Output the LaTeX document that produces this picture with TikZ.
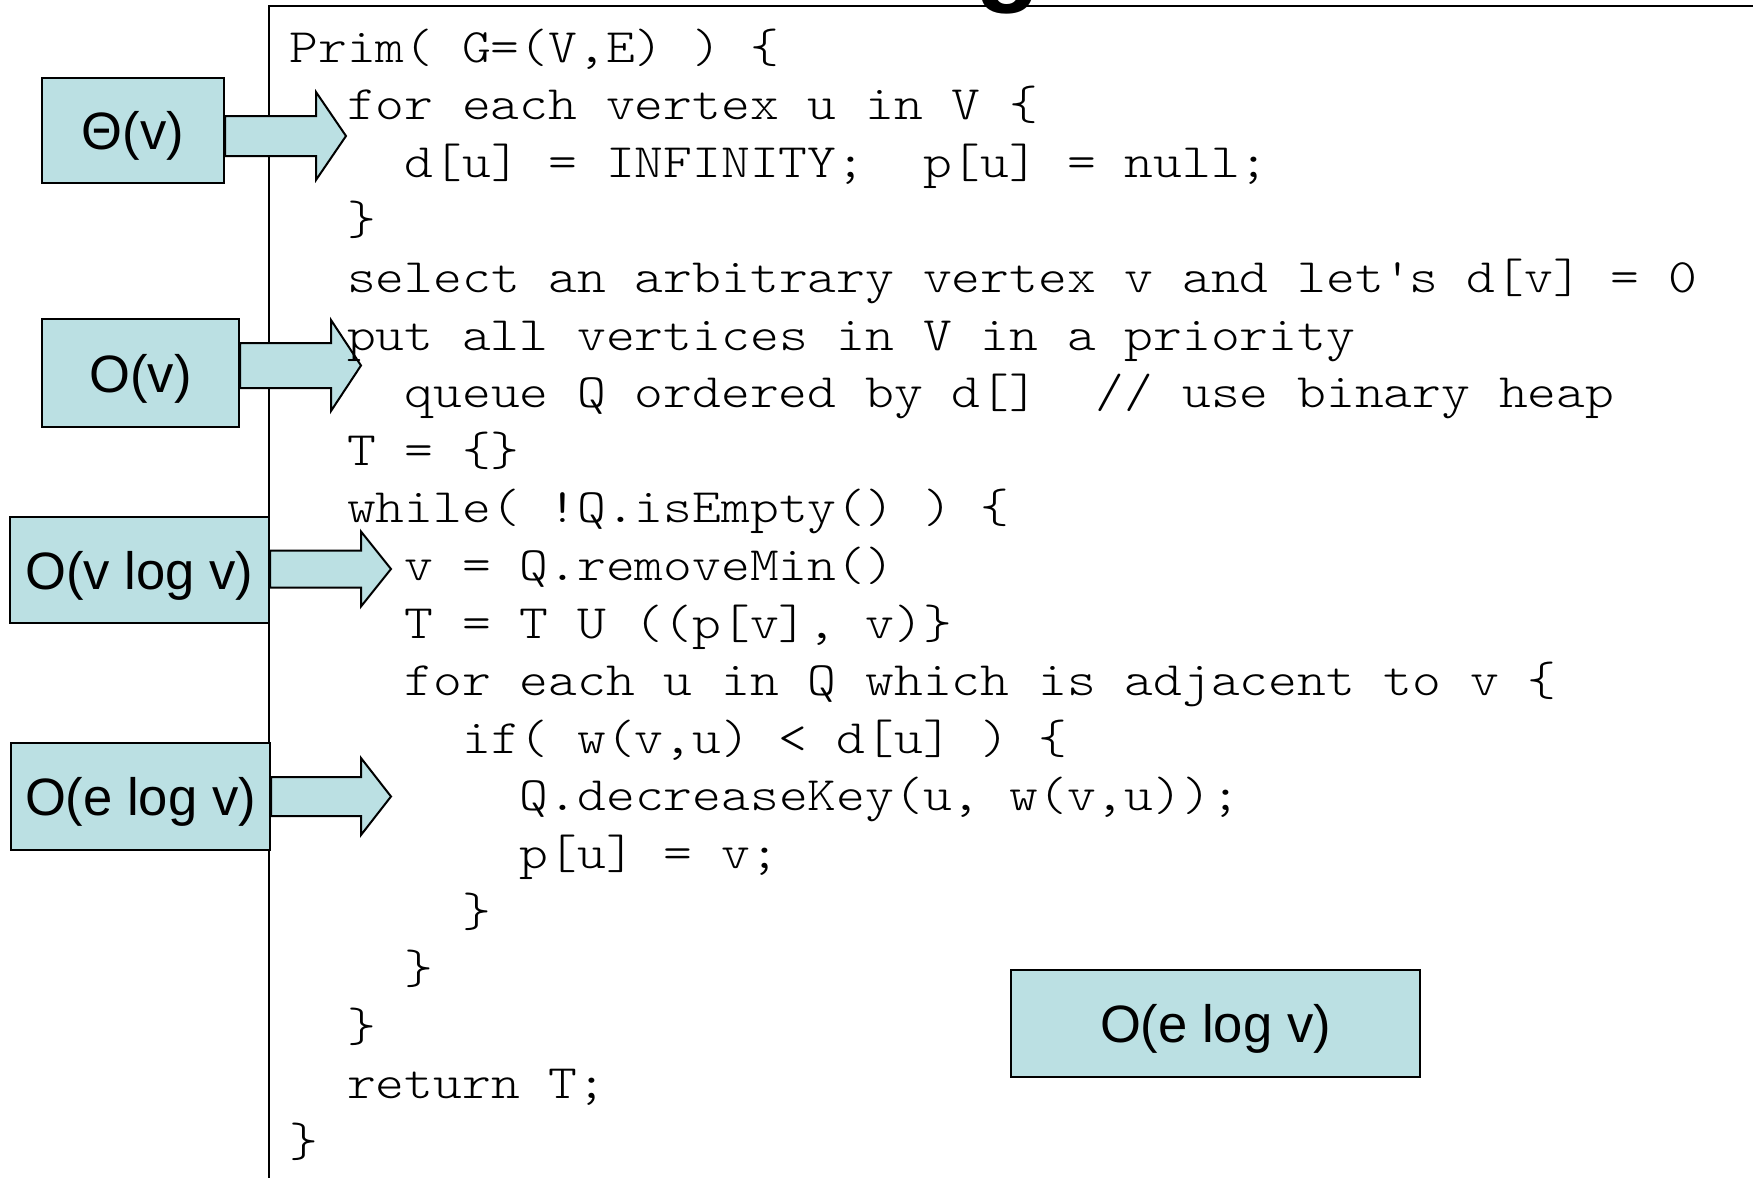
\documentclass[tikz,border=0pt]{standalone}
\usepackage{fontspec}
\setmainfont{Liberation Sans}
\newfontfamily\codefont{lmmonolt10-regular.otf}[FakeStretch=1.143]
\definecolor{boxfill}{RGB}{187,224,227}
\newcommand\cl[3]{\node[codeln] (l#1) at ({289+28.8*#2},{62+57.6*#1}) {#3};}
\newcommand\barr[6]{\draw[barrow] (#1.east) ++(0,{#2-#3}) -- ++(#4,0) -- ++(0,-#5) -- ++(#6,{#3+#5}) -- ++(-#6,{#3+#5}) -- ++(0,-#5) -- ++(-#4,0) -- cycle;}
\begin{document}
\begin{tikzpicture}[x=0.5pt,y=-0.5pt,
  cbox/.style={draw=black,fill=boxfill,line width=1pt,inner sep=0pt,text height=19pt,text depth=0pt,font=\fontsize{26.3}{30}\selectfont},
  barrow/.style={draw=black,fill=boxfill,line width=1pt,line join=miter},
  codeln/.style={anchor=base west,inner sep=0pt,font={\codefont\fontsize{24}{28.8}\selectfont\frenchspacing}},
  frameline/.style={line width=1pt,draw=black}]
\useasboundingbox (0,0) rectangle (1753,1178);
\fill[white] (0,0) rectangle (1753,1178);
\draw[frameline] (269,1178) -- (269,6) -- (1753,6);
\node[anchor=base west,inner sep=0pt,font=\bfseries\fontsize{53.5}{60}\selectfont] (title) at (975,-9) {g};
% boxes
\node[cbox,minimum width=91pt,minimum height=52.5pt] (b1) at (133,130.5) {Θ(v)};
\node[cbox,minimum width=98.5pt,minimum height=54pt] (b2) at (140.5,373) {O(v)};
\node[cbox,minimum width=129.5pt,minimum height=53pt] (b3) at (139.5,570) {O(v log v)};
\node[cbox,minimum width=129.5pt,minimum height=53.5pt] (b4) at (140.5,796.5) {O(e log v)};
\node[cbox,minimum width=204.5pt,minimum height=53.5pt] (b5) at (1215.5,1023.5) {O(e log v)};
% block arrows
\barr{b1}{5.5}{20}{91}{24}{30}
\barr{b2}{-7.5}{22.5}{91}{23}{30}
\barr{b3}{-1}{18.5}{91}{19}{30}
\barr{b4}{0}{19.5}{90}{19}{30}
% code
\cl{0}{0}{Prim( G=(V,E) ) \{}
\cl{1}{2}{for each vertex u in V \{}
\cl{2}{4}{d[u] = INFINITY;~~p[u] = null;}
\cl{3}{2}{\}}
\cl{4}{2}{select an arbitrary vertex v and let\textquotesingle s d[v] = 0}
\cl{5}{2}{put all vertices in V in a priority}
\cl{6}{4}{queue Q ordered by d[]~~// use binary heap}
\cl{7}{2}{T = \{\}}
\cl{8}{2}{while( !Q.isEmpty() ) \{}
\cl{9}{4}{v = Q.removeMin()}
\cl{10}{4}{T = T U ((p[v], v)\}}
\cl{11}{4}{for each u in Q which is adjacent to v \{}
\cl{12}{6}{if( w(v,u) < d[u] ) \{}
\cl{13}{8}{Q.decreaseKey(u, w(v,u));}
\cl{14}{8}{p[u] = v;}
\cl{15}{6}{\}}
\cl{16}{4}{\}}
\cl{17}{2}{\}}
\cl{18}{2}{return T;}
\cl{19}{0}{\}}
\end{tikzpicture}
\end{document}
